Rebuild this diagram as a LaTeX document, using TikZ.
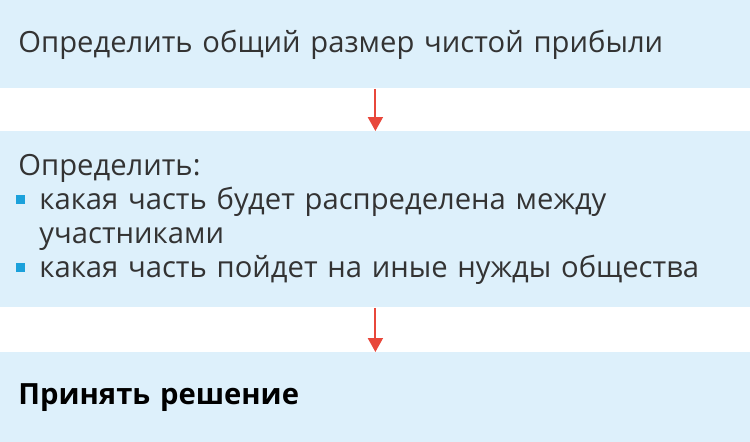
\documentclass[tikz,border=0pt]{standalone}
\usepackage{fontspec}
\setmainfont{Open Sans}
\usepackage{tikz}
\usetikzlibrary{arrows.meta}

\definecolor{boxblue}{HTML}{DDF0FB}
\definecolor{arrowred}{HTML}{E8473B}
\definecolor{bulcol}{HTML}{1BA1DB}
\definecolor{txtgray}{HTML}{333333}
\newlength{\bulind}
\setlength{\bulind}{10.5pt}
\newcommand{\bul}{\makebox[\bulind][l]{\hspace{-1pt}\textcolor{bulcol}{\rule[2.8pt]{4.2pt}{4.2pt}}}}

\begin{document}
\begin{tikzpicture}[x=0.5pt,y=-0.5pt,
    stepbox/.style={fill=boxblue,anchor=north west,minimum width=375pt,inner xsep=9pt,inner ysep=0pt,
        text width=357pt,align=left,text=txtgray,font=\fontsize{14.6}{17}\selectfont},
    flow/.style={draw=arrowred,line width=1pt,-{Triangle[length=7pt,width=7.5pt]}}]
    \useasboundingbox (0,0) rectangle (750,441);
    %boxes
    \node[stepbox,minimum height=44pt] (b1) at (0,0) {Определить общий размер чистой прибыли};
    \node[stepbox,minimum height=88pt] (b2) at (0,131) {Определить:\\
        \bul какая часть будет распределена между\\
        \hspace*{\bulind}участниками\\
        \bul какая часть пойдет на иные нужды общества};
    \node[stepbox,minimum height=45pt,text=black,font=\fontsize{14.6}{17}\selectfont\bfseries] (b3) at (0,352) {Принять решение};
    %arrows
    \draw[flow] (b1.south) -- (b2.north);
    \draw[flow] (b2.south) -- (b3.north);
\end{tikzpicture}
\end{document}
